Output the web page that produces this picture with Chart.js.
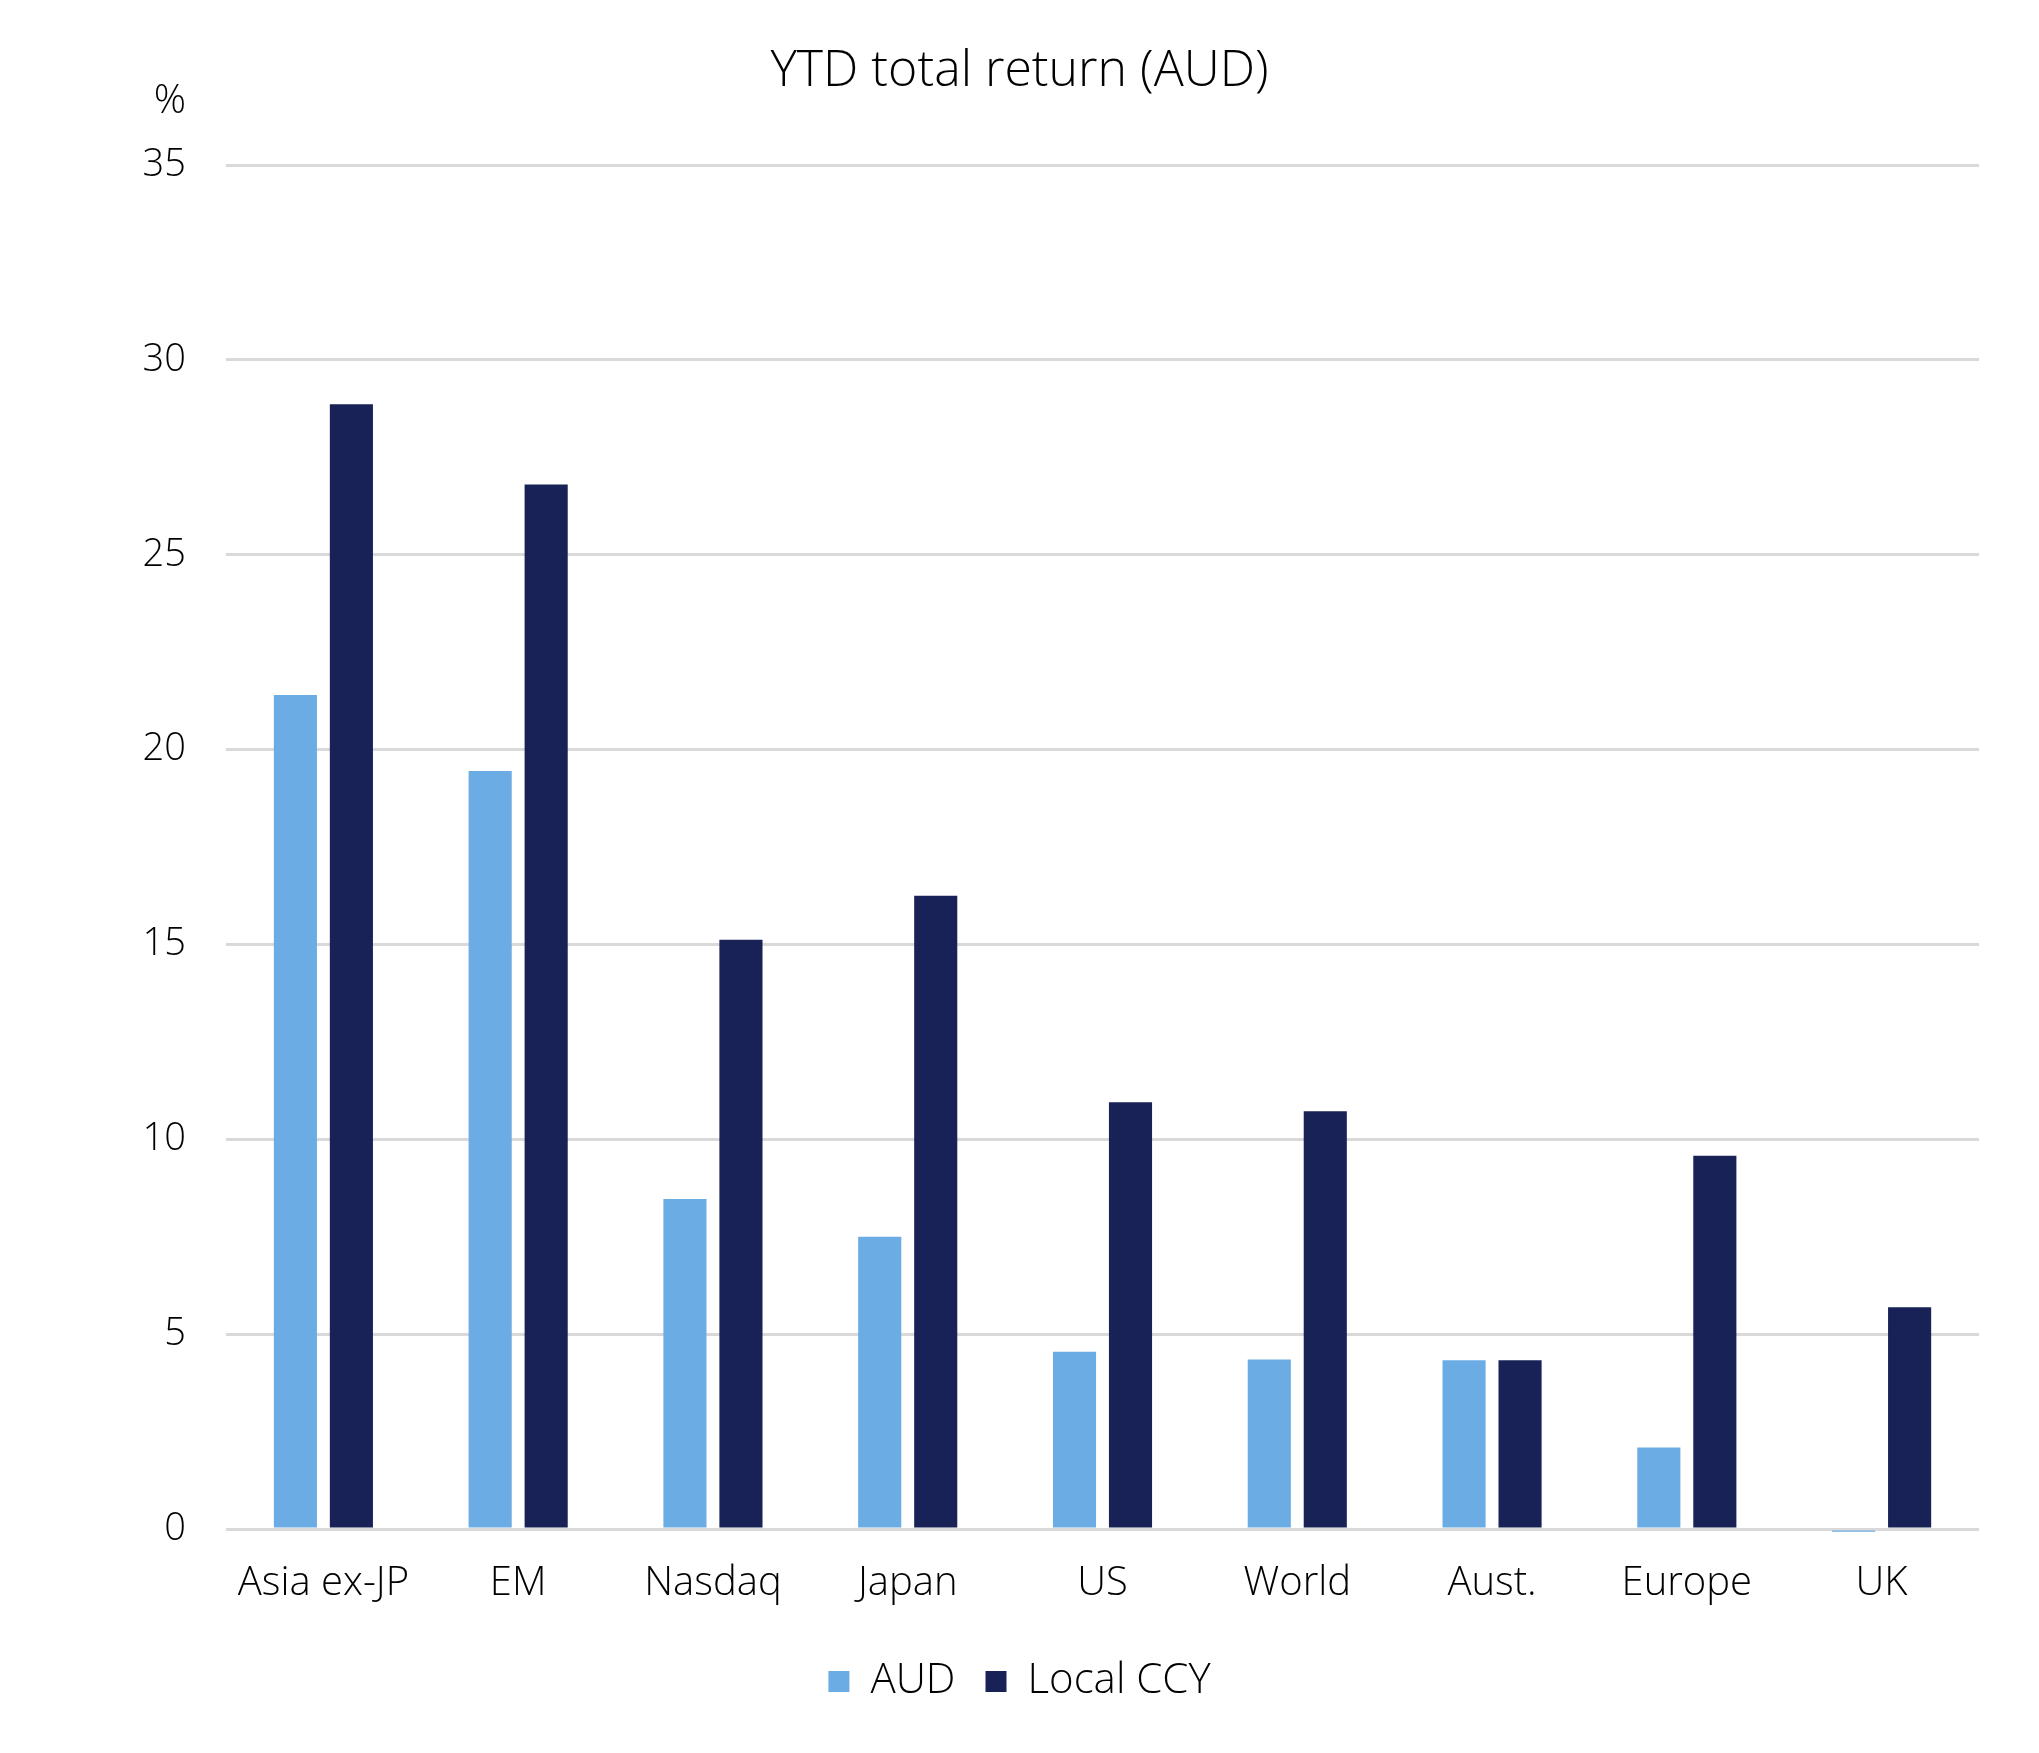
<!DOCTYPE html>
<html><head><meta charset="utf-8">
<script src="https://cdn.jsdelivr.net/npm/chart.js@4"></script>
<style>html,body{margin:0;padding:0;background:#fff}</style>
</head><body>
<canvas id="c" width="2039" height="1753"></canvas>
<script>
const categories = ['Asia ex-JP', 'EM', 'Nasdaq', 'Japan', 'US', 'World', 'Aust.', 'Europe', 'UK'];
const audValues = [21.4, 19.45, 8.47, 7.5, 4.55, 4.35, 4.33, 2.09, -0.07];
const localValues = [28.86, 26.8, 15.12, 16.25, 10.95, 10.72, 4.33, 9.58, 5.69];
const seriesNames = ['AUD', 'Local CCY'];
const seriesColors = ['#6CACE4', '#182257'];
const yMin = 0, yMax = 35, yStep = 5;
const titleText = 'YTD total return (AUD)';
const unitLabel = '%';

const FONT = "'Open Sans', 'Noto Sans', sans-serif";

const unitPlugin = {
  id: 'unitLabel',
  afterDraw(chart) {
    const ctx = chart.ctx;
    ctx.save();
    ctx.font = '300 40px ' + FONT;
    ctx.fillStyle = '#000';
    ctx.textAlign = 'right';
    ctx.textBaseline = 'middle';
    ctx.fillText(unitLabel, chart.chartArea.left - 40, 102);
    ctx.restore();
  }
};

new Chart(document.getElementById('c'), {
  type: 'bar',
  data: {
    labels: categories,
    datasets: [
      { label: seriesNames[0], data: audValues, backgroundColor: seriesColors[0], clip: false },
      { label: seriesNames[1], data: localValues, backgroundColor: seriesColors[1], clip: false }
    ]
  },
  options: {
    responsive: false,
    animation: false,
    categoryPercentage: 0.575,
    barPercentage: 0.77,
    layout: { padding: { top: 42, right: 60, bottom: 40.5, left: 60 } },
    plugins: {
      title: {
        display: true, text: titleText, color: '#000',
        font: { family: FONT, size: 50, weight: '300', lineHeight: 1.2 },
        padding: { top: 0, bottom: 63 }
      },
      legend: {
        display: true, position: 'bottom',
        labels: {
          color: '#000', font: { family: FONT, size: 42, weight: '300' },
          boxWidth: 21, boxHeight: 21, padding: 30
        }
      },
      tooltip: { enabled: false }
    },
    scales: {
      x: {
        grid: { display: false, drawTicks: false },
        border: { display: false },
        ticks: { color: '#000', font: { family: FONT, size: 40, weight: '300', lineHeight: 1.2 }, padding: 31, maxRotation: 0 },
        afterFit(scale) { scale.height = 101.5; }
      },
      y: {
        min: yMin, max: yMax,
        grid: { color: '#d9d9d9', lineWidth: 3, drawTicks: false },
        border: { display: false },
        ticks: { stepSize: yStep, color: '#000', font: { family: FONT, size: 38, weight: '300' }, padding: 40 },
        afterFit(scale) { scale.width = 166; }
      }
    }
  },
  plugins: [unitPlugin]
});
</script>
</body></html>
